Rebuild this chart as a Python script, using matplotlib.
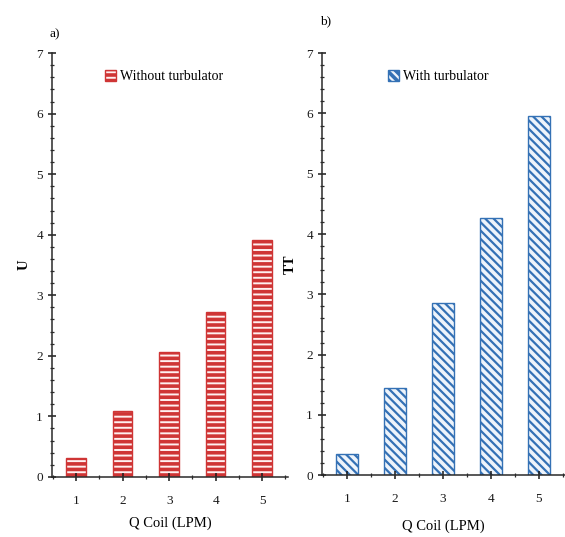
import matplotlib
matplotlib.use("Agg")
import matplotlib.pyplot as plt
from matplotlib.ticker import MultipleLocator

# Flow rate through the coil (LPM) and measured values
q_coil = [1, 2, 3, 4, 5]
u_without = [0.31, 1.09, 2.06, 2.73, 3.91]
tt_with = [0.36, 1.44, 2.86, 4.27, 5.96]
y_ticks = [0, 1, 2, 3, 4, 5, 6, 7]

plt.rcParams['font.family'] = ['Liberation Serif', 'DejaVu Serif']
plt.rcParams['hatch.linewidth'] = 2.6

red = '#cf3535'
blue = '#3471b5'

fig = plt.figure(figsize=(5.65, 5.37), dpi=100)
ax1 = fig.add_axes([0.092, 0.112, 0.418, 0.789])
ax2 = fig.add_axes([0.570, 0.115, 0.430, 0.786])


def style(ax, xmax, xpad):
    ax.set_ylim(0, 7)
    ax.set_xlim(0.48, xmax)
    ax.set_yticks(y_ticks)
    ax.set_xticks(q_coil)
    ax.yaxis.set_minor_locator(MultipleLocator(0.2))
    ax.xaxis.set_minor_locator(MultipleLocator(0.5))
    for s in ('top', 'right'):
        ax.spines[s].set_visible(False)
    for s in ('left', 'bottom'):
        ax.spines[s].set_linewidth(1.1)
        ax.spines[s].set_color('#2a2a2a')
    ax.tick_params(axis='both', which='major', direction='inout', length=6,
                   width=1.1, labelsize=9.5, colors='#1a1a1a')
    ax.tick_params(axis='x', which='major', pad=10)
    ax.tick_params(axis='both', which='minor', direction='inout', length=3,
                   width=0.9, colors='#2a2a2a')
    ax.set_xlabel('Q Coil (LPM)', fontsize=10.5, labelpad=xpad)


ax1.bar(q_coil, u_without, width=0.42, facecolor='#fff0f0', edgecolor=red,
        hatch='---', linewidth=1.0, label='Without turbulator')
style(ax1, 5.56, 7)
ax1.set_ylabel('U', fontsize=10.5, labelpad=4, fontweight='bold')
ax1.legend(loc='upper left', bbox_to_anchor=(0.17, 0.99), frameon=False,
           fontsize=10, handlelength=0.8, handleheight=0.8, handletextpad=0.3)
ax1.text(-0.01, 1.045, 'a)', transform=ax1.transAxes, fontsize=9.5,
         ha='left', va='center')

blue_bars = ax2.bar(q_coil, tt_with, width=0.46, facecolor='#eef4fb',
                    edgecolor=blue, hatch='\\\\\\\\', linewidth=1.0,
                    label='With turbulator')
for b in blue_bars:
    if hasattr(b, 'set_hatch_linewidth'):
        b.set_hatch_linewidth(1.6)
style(ax2, 5.55, 10)
ax2.set_ylabel('TT', fontsize=10.5, labelpad=7, fontweight='bold')
ax2.legend(loc='upper left', bbox_to_anchor=(0.22, 0.99), frameon=False,
           fontsize=10, handlelength=0.8, handleheight=0.8, handletextpad=0.3)
ax2.text(-0.01, 1.075, 'b)', transform=ax2.transAxes, fontsize=9.5,
         ha='left', va='center')

fig.savefig('out.png', dpi=100)
